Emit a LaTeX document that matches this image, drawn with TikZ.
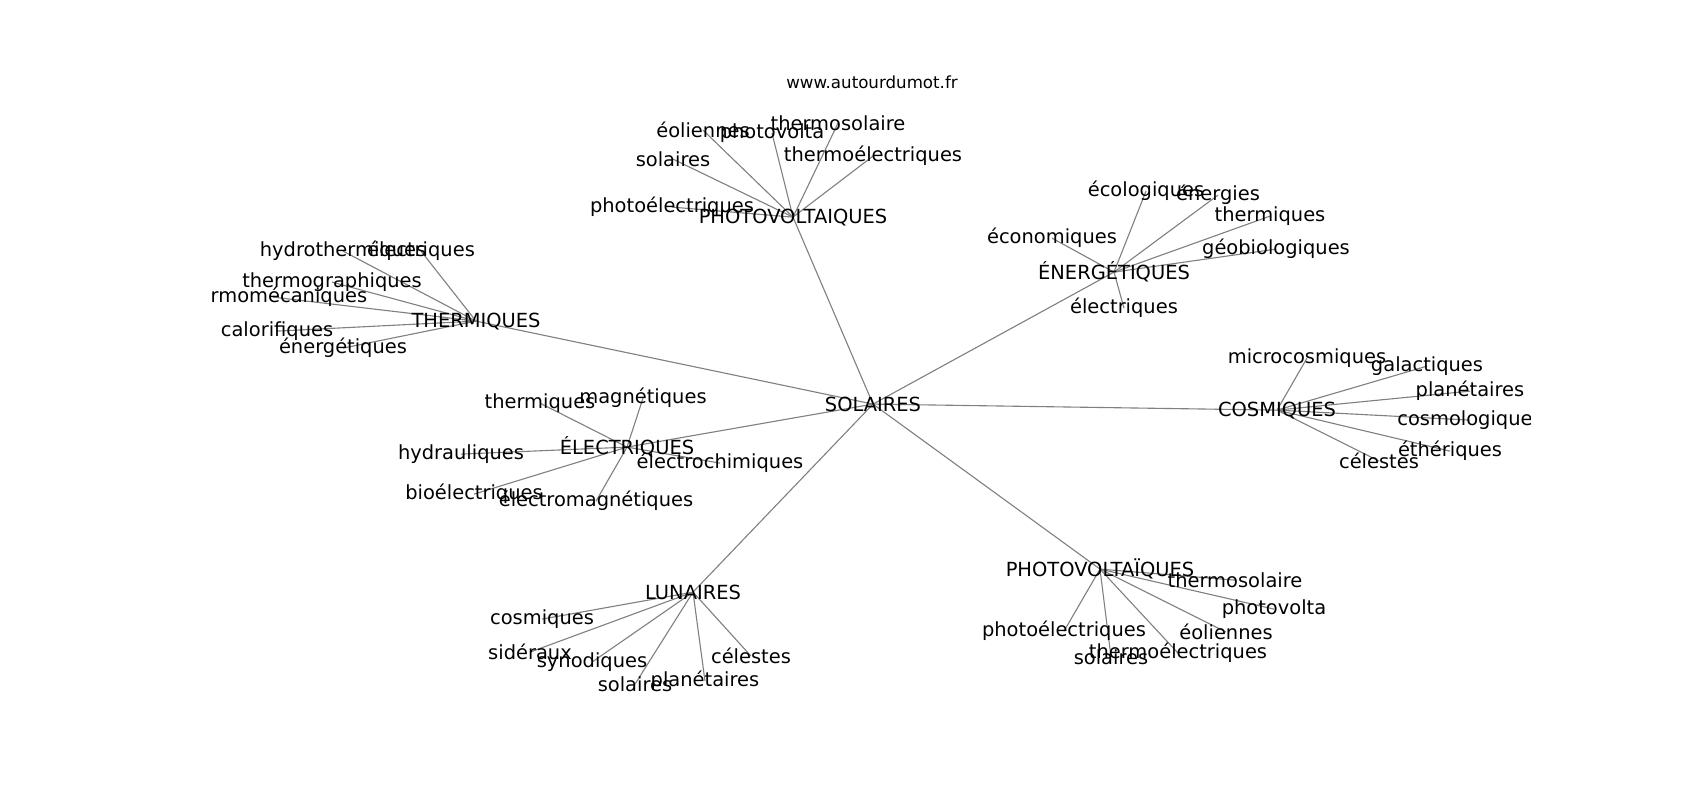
\documentclass[tikz,border=0pt]{standalone}
\usepackage{fontspec}
\setmainfont{DejaVu Sans}
\usetikzlibrary{backgrounds}
\pgfdeclarelayer{back}
\pgfsetlayers{background,back,main}

\begin{document}
\begin{tikzpicture}[x=0.72pt,y=-0.72pt,
    word/.style={draw=none,inner sep=0pt,yshift=-0.8pt,font=\fontsize{14}{16}\selectfont},
    link/.style={draw=gray,line width=0.8pt}]

  \useasboundingbox (0,0) rectangle (1700,800);

  \node (site) [draw=none,inner sep=0pt,font=\fontsize{12}{14}\selectfont] at(872,82) {www.autourdumot.fr};

  \begin{scope}
  \clip (212.5,96) rectangle (1530,712);

  % centre and its seven branches
  \node (solaires) [word] at(873,403) {SOLAIRES};
  \node (pv_top) [word] at(793,216) {PHOTOVOLTAIQUES};
  \node (therm) [word] at(476,320) {THERMIQUES};
  \node (energ) [word] at(1114,271) {ÉNERGÉTIQUES};
  \node (cosmi) [word] at(1277,409) {COSMIQUES};
  \node (elec) [word] at(627,446) {ÉLECTRIQUES};
  \node (lunai) [word] at(693,591) {LUNAIRES};
  \node (pv_bot) [word] at(1100,568) {PHOTOVOLTAÏQUES};

  \begin{pgfonlayer}{back}
  \foreach \b in {pv_top,therm,energ,cosmi,elec,lunai,pv_bot}
    \draw[link] (solaires.center) -- (\b.center);
  \end{pgfonlayer}

  % leaves
  \foreach \i/\x/\y/\w in {0/703/129/éoliennes,1/772/132/photovolta,2/838/122/thermosolaire,
      3/873/155/thermoélectriques,4/673/158/solaires,5/672/206/photoélectriques}
   {
     \node (pvt_\i) [word] at(\x,\y) {\w};
     \begin{pgfonlayer}{back}\draw[link] (pv_top.center) -- (pvt_\i.center);\end{pgfonlayer}
   }

  \foreach \i/\x/\y/\w in {0/343/250/hydrothermiques,1/421/250/électriques,2/332/281/thermographiques,
      3/273/296/thermomécaniques,4/277/330/calorifiques,5/343/347/énergétiques}
   {
     \node (th_\i) [word] at(\x,\y) {\w};
     \begin{pgfonlayer}{back}\draw[link] (therm.center) -- (th_\i.center);\end{pgfonlayer}
   }

  \foreach \i/\x/\y/\w in {0/1146/190/écologiques,1/1218/194/énergies,2/1270/215/thermiques,
      3/1276/248/géobiologiques,4/1052/237/économiques,5/1124/307/électriques}
   {
     \node (en_\i) [word] at(\x,\y) {\w};
     \begin{pgfonlayer}{back}\draw[link] (energ.center) -- (en_\i.center);\end{pgfonlayer}
   }

  \foreach \i/\x/\y/\w in {0/1307/357/microcosmiques,1/1427/365/galactiques,2/1470/390/planétaires,
      3/1470/419/cosmologiques,4/1450/450/éthériques,5/1379/460/célestes}
   {
     \node (co_\i) [word] at(\x,\y) {\w};
     \begin{pgfonlayer}{back}\draw[link] (cosmi.center) -- (co_\i.center);\end{pgfonlayer}
   }

  \foreach \i/\x/\y/\w in {0/540/402/thermiques,1/643/397/magnétiques,2/461/453/hydrauliques,
      3/720/462/électrochimiques,4/474/493/bioélectriques,5/596/500/électromagnétiques}
   {
     \node (el_\i) [word] at(\x,\y) {\w};
     \begin{pgfonlayer}{back}\draw[link] (elec.center) -- (el_\i.center);\end{pgfonlayer}
   }

  \foreach \i/\x/\y/\w in {0/542/618/cosmiques,1/530/651/sidéraux,2/592/661/synodiques,
      3/635/683/solaires,4/705/680/planétaires,5/751/655/célestes}
   {
     \node (lu_\i) [word] at(\x,\y) {\w};
     \begin{pgfonlayer}{back}\draw[link] (lunai.center) -- (lu_\i.center);\end{pgfonlayer}
   }

  \foreach \i/\x/\y/\w in {0/1235/579/thermosolaire,1/1274/608/photovolta,2/1064/630/photoélectriques,
      3/1226/631/éoliennes,4/1178/652/thermoélectriques,5/1111/656/solaires}
   {
     \node (pvb_\i) [word] at(\x,\y) {\w};
     \begin{pgfonlayer}{back}\draw[link] (pv_bot.center) -- (pvb_\i.center);\end{pgfonlayer}
   }

  \end{scope}

\end{tikzpicture}
\end{document}
